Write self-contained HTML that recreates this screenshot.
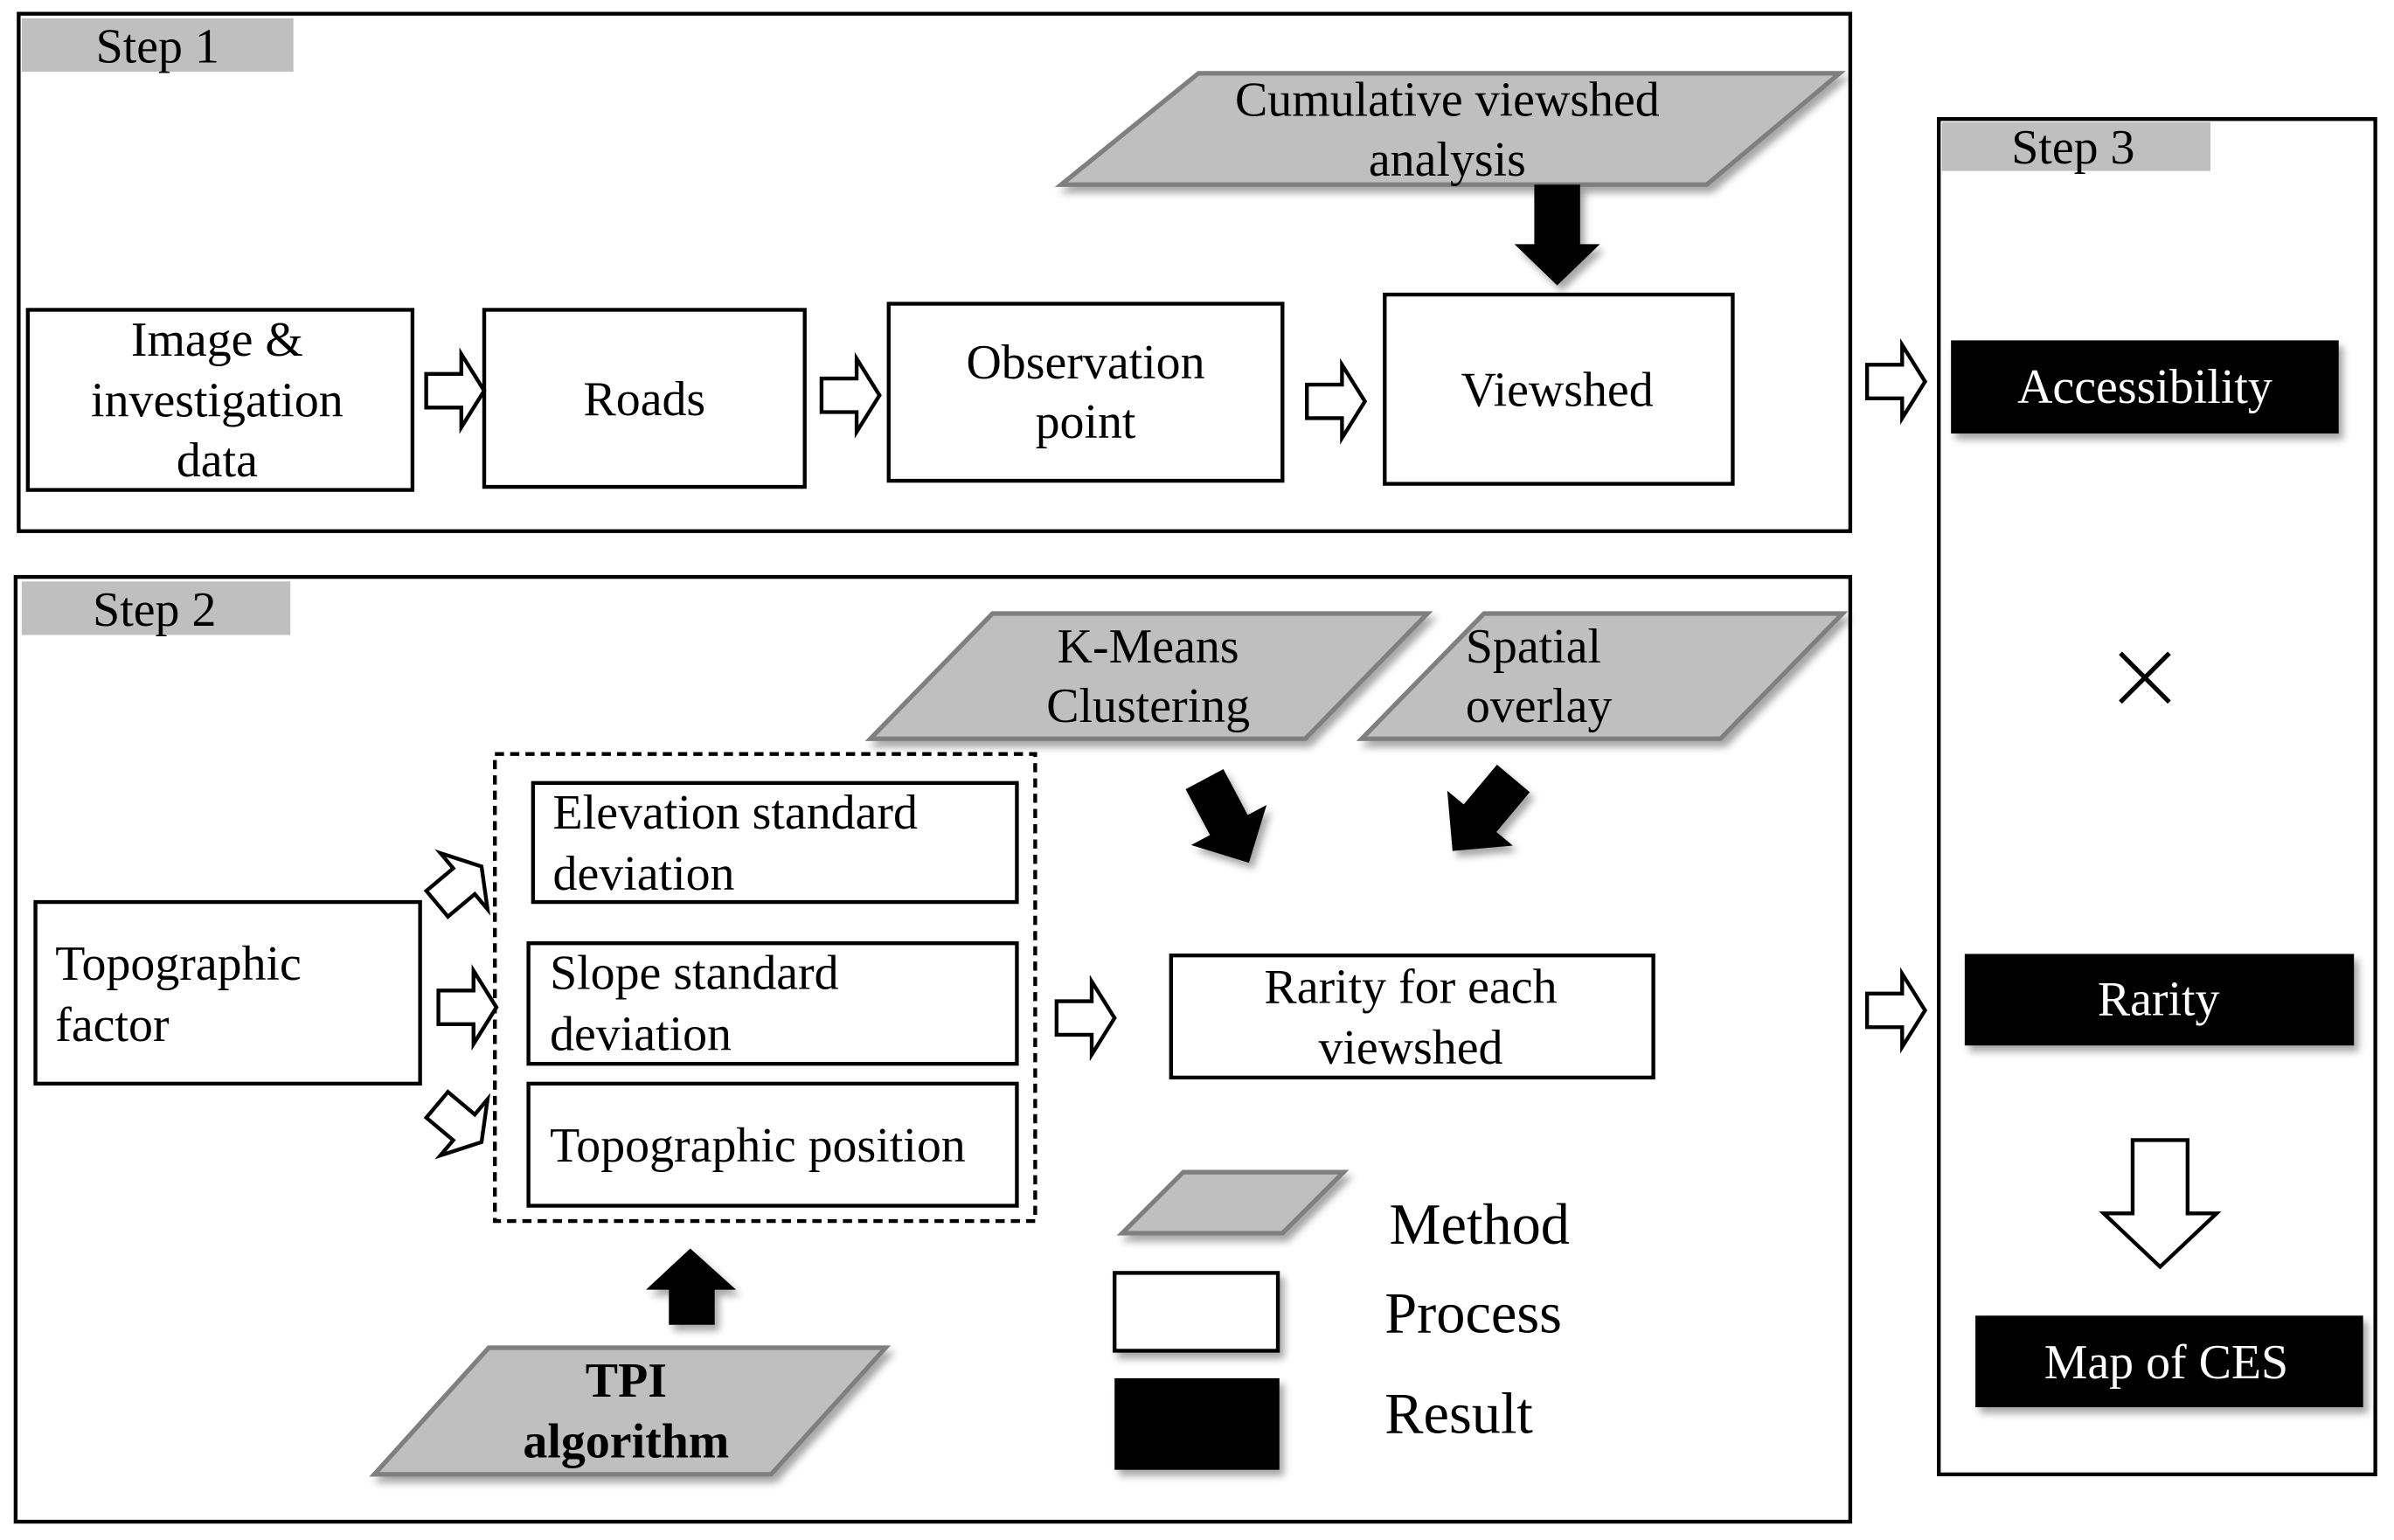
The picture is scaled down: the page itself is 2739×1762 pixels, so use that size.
<!DOCTYPE html>
<html><head><style>html,body{margin:0;padding:0;background:#fff}svg{display:block}text{font-family:"Liberation Serif","Times New Roman",serif;font-size:32px;fill:#000}</style></head>
<body>
<svg width="2739" height="1762" viewBox="0 0 1568 1009" xmlns="http://www.w3.org/2000/svg">
<defs><filter id="sh" x="-10%" y="-10%" width="130%" height="140%"><feDropShadow dx="3" dy="4" stdDeviation="2.5" flood-color="#000" flood-opacity="0.35"/></filter></defs>
<g fill="none" stroke="#000" stroke-width="2.5">
<rect x="12" y="9" width="1200" height="339"/>
<rect x="10" y="378" width="1202" height="619"/>
<rect x="1270" y="78" width="286" height="888"/>
</g>
<rect x="14" y="12" width="178" height="35" fill="#bfbfbf"/>
<rect x="14" y="381" width="176" height="35" fill="#bfbfbf"/>
<rect x="1272" y="80" width="176" height="32" fill="#bfbfbf"/>
<text x="103" y="41" text-anchor="middle">Step 1</text>
<text x="101" y="410" text-anchor="middle">Step 2</text>
<text x="1358" y="107" text-anchor="middle">Step 3</text>
<g fill="#bfbfbf" stroke="#7f7f7f" stroke-width="3" filter="url(#sh)">
<polygon points="695,121 785,48 1205,48 1118,121"/>
<polygon points="570,484 650,402 935,402 855,484"/>
<polygon points="892,484 972,402 1207,402 1127,484"/>
<polygon points="735,808 775,768 880,768 840,808"/>
<polygon points="245,966 320,883 580,883 505,966"/>
</g>
<text x="948" y="76" text-anchor="middle">Cumulative viewshed</text>
<text x="948" y="115" text-anchor="middle">analysis</text>
<text x="752" y="434" text-anchor="middle">K-Means</text>
<text x="752" y="473" text-anchor="middle">Clustering</text>
<text x="960" y="434">Spatial</text>
<text x="960" y="473">overlay</text>
<text x="410" y="915" text-anchor="middle" font-weight="bold">TPI</text>
<text x="410" y="955" text-anchor="middle" font-weight="bold">algorithm</text>
<g fill="#fff" stroke="#000" stroke-width="2.5">
<rect x="18" y="203" width="252" height="118"/>
<rect x="317" y="203" width="210" height="116"/>
<rect x="582" y="199" width="258" height="116"/>
<rect x="907" y="193" width="228" height="124"/>
<rect x="349" y="513" width="317" height="78"/>
<rect x="346" y="618" width="320" height="79"/>
<rect x="346" y="710" width="320" height="80"/>
<rect x="23" y="591" width="252" height="119"/>
<rect x="767" y="626" width="316" height="80"/>
<rect x="730" y="834" width="107" height="51" filter="url(#sh)"/>
</g>
<rect x="324" y="494" width="354" height="306" fill="none" stroke="#000" stroke-width="2.5" stroke-dasharray="6,4"/>
<text x="142" y="233" text-anchor="middle">Image &amp;</text>
<text x="142" y="273" text-anchor="middle">investigation</text>
<text x="142" y="312" text-anchor="middle">data</text>
<text x="422" y="272" text-anchor="middle">Roads</text>
<text x="711" y="248" text-anchor="middle">Observation</text>
<text x="711" y="287" text-anchor="middle">point</text>
<text x="1020" y="266" text-anchor="middle">Viewshed</text>
<text x="362" y="543">Elevation standard</text>
<text x="362" y="583">deviation</text>
<text x="360" y="648">Slope standard</text>
<text x="360" y="688">deviation</text>
<text x="360" y="761">Topographic position</text>
<text x="36" y="642">Topographic</text>
<text x="36" y="682">factor</text>
<text x="924" y="657" text-anchor="middle">Rarity for each</text>
<text x="924" y="697" text-anchor="middle">viewshed</text>
<text x="910" y="815" style="font-size:38px">Method</text>
<text x="907" y="873" style="font-size:38px">Process</text>
<text x="907" y="939" style="font-size:38px">Result</text>
<rect x="730" y="903" width="108" height="60" fill="#000" filter="url(#sh)"/>
<g fill="#000" filter="url(#sh)">
<rect x="1278" y="223" width="254" height="61"/>
<rect x="1287" y="625" width="255" height="60"/>
<rect x="1294" y="862" width="254" height="60"/>
</g>
<text x="1405" y="264" text-anchor="middle" style="fill:#fff">Accessibility</text>
<text x="1414" y="665" text-anchor="middle" style="fill:#fff">Rarity</text>
<text x="1419" y="903" text-anchor="middle" style="fill:#fff">Map of CES</text>
<g stroke="#000" stroke-width="3"><line x1="1389" y1="428" x2="1421" y2="460"/><line x1="1421" y1="428" x2="1389" y2="460"/></g>
<g fill="#fff" stroke="#000" stroke-width="2.5">
<polygon points="279,245 302,245 302,232 317,256 302,280 302,267 279,267"/>
<polygon points="538,248 561,248 561,235 576,259 561,283 561,270 538,270"/>
<polygon points="856,252 879,252 879,239 894,263 879,287 879,274 856,274"/>
<polygon points="1223,239 1246,239 1246,226 1261,250 1246,274 1246,261 1223,261"/>
<polygon points="1223,651 1246,651 1246,638 1261,662 1246,686 1246,673 1223,673"/>
<polygon points="287,649 310,649 310,636 325,660 310,684 310,671 287,671"/>
<polygon points="692,656 715,656 715,643 730,667 715,691 715,678 692,678"/>
<g transform="translate(303,578) rotate(-40)"><polygon points="-22,-11 1,-11 1,-24 16,0 1,24 1,11 -22,11"/></g>
<g transform="translate(303,738) rotate(40)"><polygon points="-22,-11 1,-11 1,-24 16,0 1,24 1,11 -22,11"/></g>
<polygon points="1397,747 1433,747 1433,795 1452,795 1415,830 1378,795 1397,795"/>
</g>
<g fill="#000" filter="url(#sh)">
<polygon points="1005,121 1035,121 1035,160 1048,160 1020,187 992,160 1005,160"/>
<polygon points="438,868 468,868 468,845 482,845 452,818 423,845 438,845"/>
<g transform="translate(803,537) rotate(62)"><polygon points="-30,-14 4,-14 4,-28 32,0 4,28 4,14 -30,14"/></g>
<g transform="translate(972,533) rotate(130)"><polygon points="-30,-14 4,-14 4,-28 32,0 4,28 4,14 -30,14"/></g>
</g>
</svg>
</body></html>
